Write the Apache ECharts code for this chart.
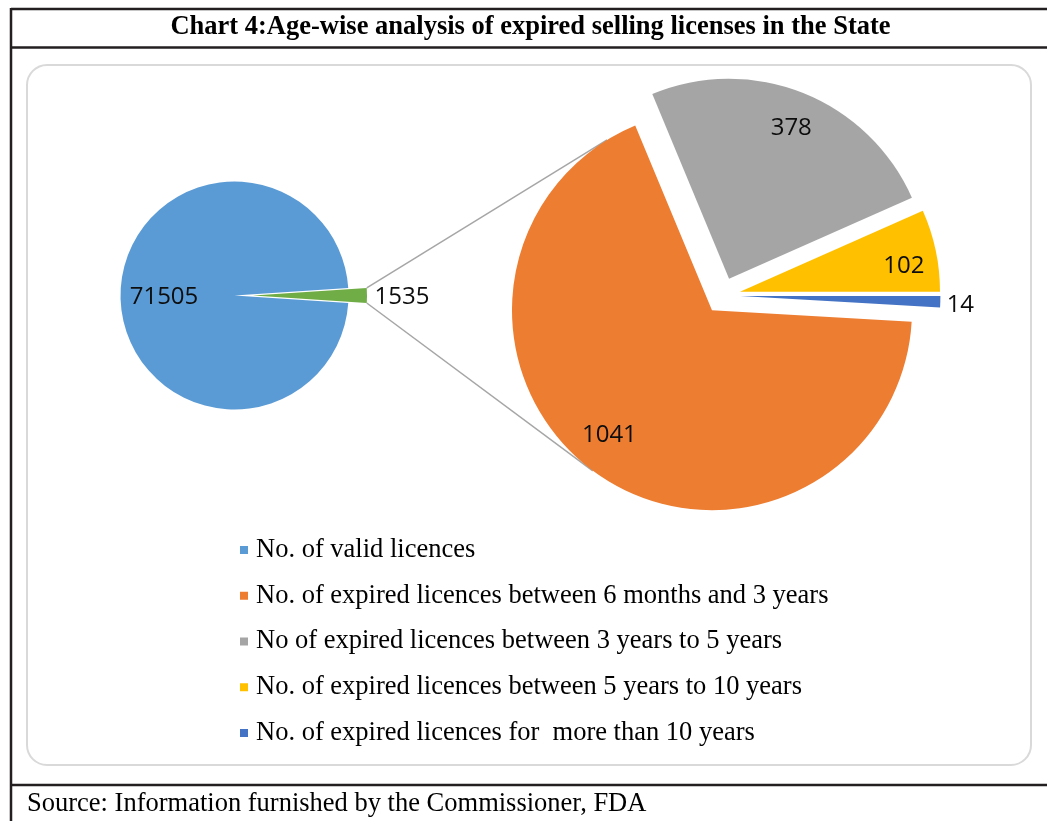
<!DOCTYPE html>
<html><head><meta charset="utf-8">
<script src="https://cdn.jsdelivr.net/npm/echarts@6/dist/echarts.min.js"></script>
<style>html,body{margin:0;padding:0;background:#fff}#c{width:1047px;height:821px}</style>
</head><body><div id="c"></div>
<script>
// ---- data ----
const mainNames = ['No. of valid licences', 'Expired licences'];
const mainValues = [71505, 1535];
const splitNames = [
  'No. of expired licences between 6 months and 3 years',
  'No of expired licences between 3 years to 5 years',
  'No. of expired licences between 5 years to 10 years',
  'No. of expired licences for  more than 10 years'
];
const splitValues = [1041, 378, 102, 14];
const legendNames = [mainNames[0]].concat(splitNames);
const titleText = 'Chart 4:Age-wise analysis of expired selling licenses in the State';
const sourceText = 'Source: Information furnished by the Commissioner, FDA';

// ---- style ----
const mainColors = ['#5B9BD5', '#70AD47'];
const splitColors = ['#ED7D31', '#A5A5A5', '#FFC000', '#4472C4'];
const leftCenter = [234.5, 295.5], leftR = 114, leftOffset = 18.5;
const rightCenter = [722.4, 295.5], rightR = 200, rightOffset = 18;
// label shifts (px) relative to the default inside anchor
const leftShift = [[89, 2], [-10.5, 2]];            // green, valid
const rightShift = [[-43, 41], [24, -55], [63, -4], [117, 6]];

const sum = a => a.reduce((s, v) => s + v, 0);
const leftVals = [mainValues[1], mainValues[0]];
const leftNamesOrd = [mainNames[1], mainNames[0]];
const leftColorsOrd = [mainColors[1], mainColors[0]];
const leftStart = 180 * mainValues[1] / sum(mainValues);
const rightStart = 360 - 360 * splitValues[3] / sum(splitValues);

function midAngles(values, start) {
  let a = start; const tot = sum(values);
  return values.map(v => { const s = 360 * v / tot; const m = a - s / 2; a -= s; return m; });
}
const labelBase = { show: true, position: 'inside', formatter: '{c}', color: '#0d0d0d', fontFamily: 'Open Sans', fontSize: 24 };

const leftData = leftVals.map((v, i) => ({
  name: leftNamesOrd[i], value: v, selected: i === 0,
  itemStyle: { color: leftColorsOrd[i] }
}));
const rightData = splitValues.map((v, i) => ({
  name: splitNames[i], value: v, selected: true,
  itemStyle: { color: splitColors[i] }
}));
const layoutFor = shifts => p => ({ dx: shifts[p.dataIndex][0], dy: shifts[p.dataIndex][1], hideOverlap: false, moveOverlap: null });

// connector lines: tangents from the exploded small slice to the orange slice circle
const rad = d => d * Math.PI / 180;
const lm = midAngles(leftVals, leftStart)[0];
const G = [leftCenter[0] + leftOffset * Math.cos(rad(lm)), leftCenter[1] - leftOffset * Math.sin(rad(lm))];
const pTop = [G[0] + leftR * Math.cos(rad(leftStart)), G[1] - leftR * Math.sin(rad(leftStart))];
const pBot = [G[0] + leftR * Math.cos(rad(-leftStart)), G[1] - leftR * Math.sin(rad(-leftStart))];
const om = midAngles(splitValues, rightStart)[0];
const O = [rightCenter[0] + rightOffset * Math.cos(rad(om)), rightCenter[1] - rightOffset * Math.sin(rad(om))];
function tangent(P, upper) {
  const dx = P[0] - O[0], dy = -(P[1] - O[1]);
  const D = Math.hypot(dx, dy), al = Math.atan2(dy, dx), ph = Math.acos(rightR / D);
  const c = [al - ph, al + ph].map(t => [O[0] + rightR * Math.cos(t), O[1] - rightR * Math.sin(t)]);
  c.sort((a, b) => a[1] - b[1]);
  return upper ? c[0] : c[1];
}
const tTop = tangent(pTop, true), tBot = tangent(pBot, false);

const frame = { stroke: '#231f20', lineWidth: 2.5 };
const chart = echarts.init(document.getElementById('c'));
chart.setOption({
  animation: false,
  backgroundColor: '#fff',
  legend: {
    data: legendNames, orient: 'vertical', left: 240, top: 535, padding: 0,
    icon: 'rect', itemWidth: 8, itemHeight: 8, itemGap: 15.75, selectedMode: false,
    textStyle: { fontFamily: 'Liberation Serif', fontSize: 26.5, color: '#000', lineHeight: 30, padding: [0, 0, 0, 3] }
  },
  graphic: [
    { type: 'line', shape: { x1: 11, y1: 9, x2: 1047, y2: 9 }, style: frame },
    { type: 'line', shape: { x1: 11, y1: 47.5, x2: 1047, y2: 47.5 }, style: frame },
    { type: 'line', shape: { x1: 11, y1: 785, x2: 1047, y2: 785 }, style: frame },
    { type: 'line', shape: { x1: 11, y1: 8, x2: 11, y2: 821 }, style: frame },
    { type: 'rect', shape: { x: 27, y: 65, width: 1004, height: 700, r: 20 }, style: { fill: 'none', stroke: '#d9d9d9', lineWidth: 2 } },
    { type: 'text', x: 530.5, y: 27, style: { text: titleText, fill: '#000', font: 'bold 26.5px "Liberation Serif"', textAlign: 'center', textVerticalAlign: 'middle' } },
    { type: 'text', x: 27, y: 804, style: { text: sourceText, fill: '#000', font: '26.5px "Liberation Serif"', textAlign: 'left', textVerticalAlign: 'middle' } },
    { type: 'line', shape: { x1: pTop[0], y1: pTop[1], x2: tTop[0], y2: tTop[1] }, style: { stroke: '#a6a6a6', lineWidth: 1.5 } },
    { type: 'line', shape: { x1: pBot[0], y1: pBot[1], x2: tBot[0], y2: tBot[1] }, style: { stroke: '#a6a6a6', lineWidth: 1.5 } }
  ],
  series: [
    {
      type: 'pie', center: leftCenter, radius: leftR, startAngle: leftStart, clockwise: true,
      selectedMode: 'multiple', selectedOffset: leftOffset, avoidLabelOverlap: false,
      label: labelBase, labelLine: { show: false }, labelLayout: layoutFor(leftShift),
      emphasis: { disabled: true }, silent: true,
      data: leftData
    },
    {
      type: 'pie', center: rightCenter, radius: rightR, startAngle: rightStart, clockwise: true,
      selectedMode: 'multiple', selectedOffset: rightOffset, avoidLabelOverlap: false,
      label: labelBase, labelLine: { show: false }, labelLayout: layoutFor(rightShift),
      emphasis: { disabled: true }, silent: true,
      data: rightData
    }
  ]
});
</script></body></html>
